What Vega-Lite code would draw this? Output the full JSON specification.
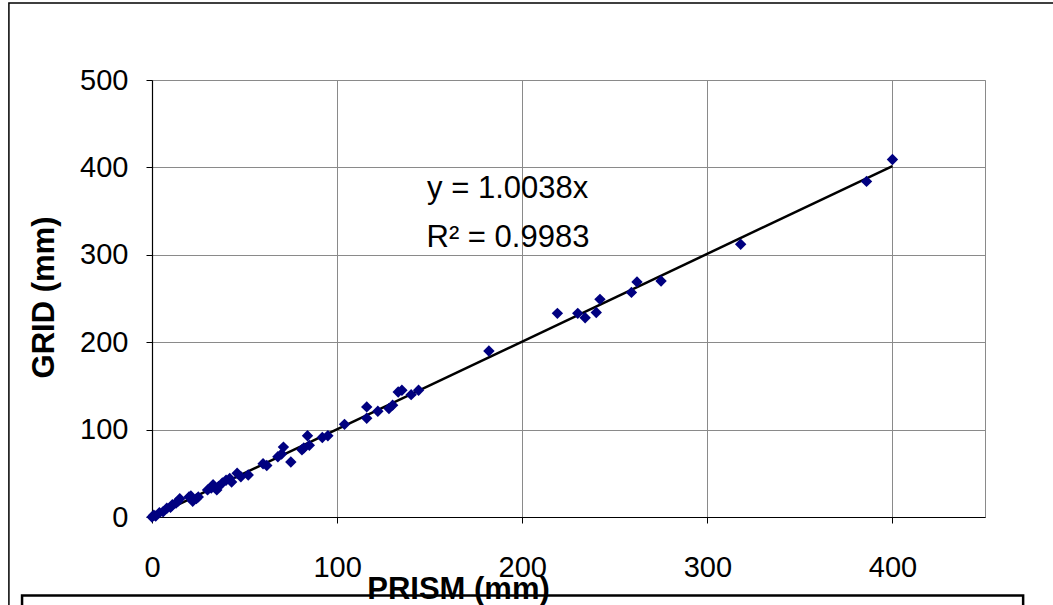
{
  "$schema": "https://vega.github.io/schema/vega-lite/v6.json",
  "width": 833,
  "height": 437,
  "autosize": {"type": "none"},
  "padding": {"left": 152, "top": 80, "right": 68, "bottom": 88},
  "background": "white",
  "config": {
    "font": "Liberation Sans",
    "view": {"stroke": "#8a8a8a", "strokeWidth": 1},
    "axis": {
      "labelFont": "Liberation Sans",
      "titleFont": "Liberation Sans",
      "labelColor": "black",
      "titleColor": "black",
      "gridColor": "#8a8a8a",
      "gridWidth": 1,
      "gridOpacity": 1,
      "domainColor": "black",
      "domainWidth": 1.2,
      "tickColor": "black",
      "tickWidth": 1,
      "tickSize": 6,
      "labelFontSize": 29,
      "titleFontSize": 31,
      "titleFontWeight": "bold",
      "labelFlush": false,
      "grid": true
    }
  },
  "datasets": {
    "pts": [
      {"prism": 0, "grid": 0}, {"prism": 1, "grid": 2}, {"prism": 2, "grid": 1}, {"prism": 4, "grid": 5},
      {"prism": 6, "grid": 6}, {"prism": 8, "grid": 10}, {"prism": 10, "grid": 11}, {"prism": 11, "grid": 14},
      {"prism": 13, "grid": 16}, {"prism": 14, "grid": 18}, {"prism": 15, "grid": 21}, {"prism": 20, "grid": 23},
      {"prism": 21, "grid": 24}, {"prism": 22, "grid": 18}, {"prism": 24, "grid": 21}, {"prism": 25, "grid": 23},
      {"prism": 30, "grid": 31}, {"prism": 32, "grid": 33}, {"prism": 33, "grid": 37}, {"prism": 35, "grid": 31},
      {"prism": 36, "grid": 35}, {"prism": 38, "grid": 39}, {"prism": 40, "grid": 42}, {"prism": 42, "grid": 44},
      {"prism": 43, "grid": 40}, {"prism": 46, "grid": 50}, {"prism": 48, "grid": 46}, {"prism": 52, "grid": 48},
      {"prism": 60, "grid": 61}, {"prism": 62, "grid": 59}, {"prism": 68, "grid": 69}, {"prism": 70, "grid": 72},
      {"prism": 71, "grid": 80}, {"prism": 75, "grid": 63}, {"prism": 81, "grid": 77}, {"prism": 82, "grid": 79},
      {"prism": 84, "grid": 93}, {"prism": 85, "grid": 82}, {"prism": 92, "grid": 91}, {"prism": 95, "grid": 93},
      {"prism": 104, "grid": 106}, {"prism": 116, "grid": 126}, {"prism": 116, "grid": 113}, {"prism": 122, "grid": 121},
      {"prism": 128, "grid": 124}, {"prism": 130, "grid": 128}, {"prism": 133, "grid": 143}, {"prism": 135, "grid": 145},
      {"prism": 140, "grid": 140}, {"prism": 144, "grid": 145}, {"prism": 182, "grid": 190}, {"prism": 219, "grid": 233},
      {"prism": 230, "grid": 233}, {"prism": 234, "grid": 228}, {"prism": 240, "grid": 234}, {"prism": 242, "grid": 249},
      {"prism": 259, "grid": 257}, {"prism": 262, "grid": 269}, {"prism": 275, "grid": 270}, {"prism": 318, "grid": 312},
      {"prism": 386, "grid": 384}, {"prism": 400, "grid": 409}
    ],
    "trend": [
      {"prism": 0, "grid": 0},
      {"prism": 400, "grid": 401.52}
    ]
  },
  "layer": [
    {
      "data": {"name": "trend"},
      "mark": {"type": "line", "color": "black", "strokeWidth": 2.5},
      "encoding": {
        "x": {
          "field": "prism", "type": "quantitative", "title": "PRISM (mm)",
          "scale": {"domain": [0, 450], "nice": false, "zero": true},
          "axis": {
            "values": [0, 100, 200, 300, 400],
            "titleBaseline": "alphabetic",
            "titleAlign": "center",
            "titleX": 306,
            "titleY": 81,
            "labelPadding": 30
          }
        },
        "y": {
          "field": "grid", "type": "quantitative", "title": "GRID (mm)",
          "scale": {"domain": [0, 500], "nice": false, "zero": true},
          "axis": {
            "values": [0, 100, 200, 300, 400, 500],
            "titleBaseline": "alphabetic",
            "titleAlign": "center",
            "titleAngle": -90,
            "titleX": -99,
            "titleY": 217,
            "labelPadding": 18
          }
        }
      }
    },
    {
      "data": {"name": "pts"},
      "mark": {"type": "point", "shape": "diamond", "filled": true, "size": 130, "color": "#000080", "opacity": 1},
      "encoding": {
        "x": {"field": "prism", "type": "quantitative", "title": "PRISM (mm)"},
        "y": {"field": "grid", "type": "quantitative", "title": "GRID (mm)"}
      }
    },
    {
      "data": {"values": [{}]},
      "mark": {"type": "text", "text": "y = 1.0038x", "align": "left", "baseline": "alphabetic", "fontSize": 31, "color": "black"},
      "encoding": {
        "x": {"datum": 148.6, "type": "quantitative", "title": "PRISM (mm)"},
        "y": {"datum": 365, "type": "quantitative", "title": "GRID (mm)"}
      }
    },
    {
      "data": {"values": [{}]},
      "mark": {"type": "text", "text": "R² = 0.9983", "align": "left", "baseline": "alphabetic", "fontSize": 31, "color": "black"},
      "encoding": {
        "x": {"datum": 148.3, "type": "quantitative", "title": "PRISM (mm)"},
        "y": {"datum": 309, "type": "quantitative", "title": "GRID (mm)"}
      }
    },
    {
      "data": {"values": [{}]},
      "mark": {"type": "rect", "fill": null, "fillOpacity": 0, "stroke": "black", "strokeWidth": 1.5, "clip": false},
      "encoding": {
        "x": {"datum": -77.3, "type": "quantitative", "title": "PRISM (mm)"},
        "x2": {"datum": 500},
        "y": {"datum": 588, "type": "quantitative", "title": "GRID (mm)"},
        "y2": {"datum": -130}
      }
    },
    {
      "data": {"values": [{}]},
      "mark": {"type": "rect", "fill": null, "fillOpacity": 0, "stroke": "black", "strokeWidth": 2.5, "clip": false},
      "encoding": {
        "x": {"datum": -70.2, "type": "quantitative", "title": "PRISM (mm)"},
        "x2": {"datum": 470.6},
        "y": {"datum": -89.8, "type": "quantitative", "title": "GRID (mm)"},
        "y2": {"datum": -130}
      }
    }
  ]
}
